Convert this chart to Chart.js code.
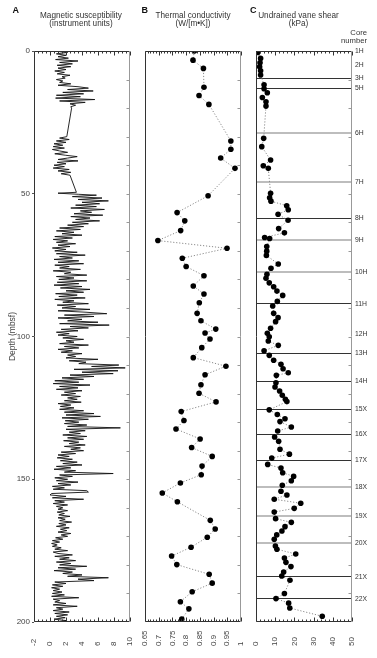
<!DOCTYPE html>
<html>
<head>
<meta charset="utf-8">
<script src="https://cdn.jsdelivr.net/npm/chart.js@4.4.0/dist/chart.umd.min.js"></script>
<style>
body { margin: 0; background: #fff; }
#wrap { position: relative; width: 377px; height: 658px; font-family: "Liberation Sans", Arial, sans-serif; color: #333; }
canvas { position: absolute; top: 0; }
.letter { position: absolute; top: 6.4px; font-size: 9px; line-height: 9px; font-weight: bold; color: #111; }
.ttl { position: absolute; top: 11.5px; font-size: 8.2px; line-height: 8px; text-align: center; white-space: nowrap; transform: translateX(-50%); }
.core { position: absolute; top: 29px; right: 10px; font-size: 7.7px; line-height: 8px; text-align: right; }
</style>
</head>
<body>
<div id="wrap">
  <canvas id="chartA" width="140" height="658" style="left:0px"></canvas>
  <canvas id="chartB" width="115" height="658" style="left:135px"></canvas>
  <canvas id="chartC" width="127" height="658" style="left:250px"></canvas>
  <div class="letter" style="left:12.5px">A</div>
  <div class="letter" style="left:141.5px">B</div>
  <div class="letter" style="left:250px">C</div>
  <div class="ttl" style="left:81px">Magnetic susceptibility<br>(instrument units)</div>
  <div class="ttl" style="left:193px">Thermal conductivity<br>(W/[m•K])</div>
  <div class="ttl" style="left:298.5px">Undrained vane shear<br>(kPa)</div>
  <div class="core">Core<br>number</div>
</div>
<script>
/* depth in mbsf */
const magDepth = [
  0, 0.5, 1, 1.5, 2, 2.5, 3, 3.5, 4, 4.5, 5,
  5.5, 6, 6.5, 7, 7.5, 8, 8.5, 9, 9.5, 10,
  10.5, 11, 11.5, 12, 12.5, 13, 13.5, 14, 14.5, 15,
  15.5, 16, 16.5, 17, 17.5, 18, 18.5, 19, 19.5, 20,
  30, 30.5, 31, 31.5, 32, 32.5, 33, 33.5, 34, 34.5,
  35, 35.5, 36, 36.5, 37, 37.5, 38, 38.5, 39, 39.5,
  40, 40.5, 41, 41.5, 42, 42.5, 43, 43.5,
  49.5, 49.8, 50.2, 50.5, 51, 51.5, 52, 52.5, 53, 53.5, 54, 54.5, 55,
  55.5, 56, 56.5, 57, 57.5, 58, 58.5, 59, 59.5, 60,
  60.5, 61, 61.5, 62, 62.5, 63, 63.5, 64, 64.5, 65,
  65.5, 66, 66.5, 67, 67.5, 68, 68.5, 69, 69.5, 70,
  70.5, 71, 71.5, 72, 72.5, 73, 73.5, 74, 74.5, 75,
  75.5, 76, 76.5, 77, 77.5, 78, 78.5, 79, 79.5, 80,
  80.5, 81, 81.5, 82, 82.5, 83, 83.5, 84, 84.5, 85,
  85.5, 86, 86.5, 87, 87.5, 88, 88.5, 89, 89.5, 90,
  90.5, 91, 91.5, 92, 92.5, 93, 93.5, 94, 94.5, 95,
  95.5, 96, 96.5, 97, 97.5, 98, 98.5, 99, 99.5, 100,
  100.5, 101, 101.5, 102, 102.5, 103, 103.5, 104, 104.5, 105,
  105.5, 106, 106.5, 107, 107.5, 108, 108.5, 109, 109.5, 110,
  110.5, 111, 111.5, 112, 112.5, 113, 113.5, 114, 114.5, 115,
  115.5, 116, 116.5, 117, 117.5, 118, 118.5, 119, 119.5, 120,
  120.5, 121, 121.5, 122, 122.5, 123, 123.5, 124, 124.5, 125,
  125.5, 126, 126.5, 127, 127.5, 128, 128.5, 129, 129.5, 130,
  130.5, 131, 131.5, 132, 132.5, 133, 133.5, 134, 134.5, 135,
  135.5, 136, 136.5, 137, 137.5, 138, 138.5, 139, 139.5, 140,
  140.5, 141, 141.5, 142, 142.5, 143, 143.5, 144, 144.5, 145,
  145.5, 146, 146.5, 147, 147.5, 148, 148.5, 149, 149.5, 150,
  150.5, 151, 151.5, 152, 152.5, 153, 153.5, 154, 154.5, 155,
  155.5, 156, 156.5, 157, 157.5, 158, 158.5, 159, 159.5, 160,
  160.5, 161, 161.5, 162, 162.5, 163, 163.5, 164, 164.5, 165,
  165.5, 166, 166.5, 167, 167.5, 168, 168.5, 169, 169.5, 170,
  170.5, 171, 171.5, 172, 172.5, 173, 173.5, 174, 174.5, 175,
  175.5, 176, 176.5, 177, 177.5, 178, 178.5, 179, 179.5, 180,
  180.5, 181, 181.5, 182, 182.5, 183, 183.5, 184, 184.5, 185,
  185.5, 186, 186.5, 187, 187.5, 188, 188.5, 189, 189.5, 190,
  190.5, 191, 191.5, 192, 192.5, 193, 193.5, 194, 194.5, 195,
  195.5, 196, 196.5, 197, 197.5, 198, 198.5, 199, 199.5, 200
];
const magSusc = [
  0.5, 2.2, 0.8, 2.0, 1.0, 2.3, 0.7, 3.5, 1.2, 2.8, 0.9,
  2.6, 1.0, 2.0, 0.6, 1.8, 0.9, 2.5, 1.5, 1.9, 0.8,
  1.6, 1.2, 2.6, 1.0, 3.5, 4.8, 2.2, 5.4, 1.6, 4.2,
  0.8, 3.8, 0.7, 5.6, 1.2, 4.4, 2.5, 3.2, 2.6, 2.7,
  2.1, 1.2, 2.4, 0.8, 2.0, 0.5, 1.6, 0.4, 1.8, 0.3,
  1.2, 2.2, 0.6, 1.9, 3.4, 2.2, 1.0, 3.5, 0.9, 2.0,
  0.5, 1.8, 0.4, 2.4, 1.0, 2.6, 1.4, 2.5,
  3.3, 1.0, 3.6, 5.8, 2.8, 6.5, 3.5, 7.3, 4.0, 6.2, 3.2, 5.8, 2.6,
  6.8, 3.8, 5.2, 3.0, 6.6, 2.6, 5.0, 3.2, 6.2, 2.8,
  4.8, 2.2, 4.2, 1.2, 3.8, 0.8, 3.0, 1.5, 4.0, 0.6,
  2.8, 0.4, 2.2, 0.8, 3.2, 1.0, 2.5, 0.3, 2.0, 0.6,
  3.4, 0.8, 4.4, 1.2, 2.8, 0.5, 3.6, 1.0, 4.2, 0.6,
  2.4, 1.2, 3.8, 0.4, 2.6, 1.8, 4.6, 0.8, 3.0, 1.1,
  4.6, 0.9, 3.6, 0.5, 4.0, 1.3, 5.0, 2.0, 4.2, 0.7,
  3.4, 1.1, 4.4, 0.6, 3.0, 1.6, 4.8, 0.9, 3.2, 1.5,
  5.0, 1.0, 4.5, 7.1, 1.8, 5.5, 1.0, 4.0, 2.2, 6.0,
  1.2, 7.4, 2.5, 4.8, 1.4, 3.5, 0.8, 2.4, 1.0, 3.4,
  1.6, 4.2, 2.0, 3.0, 1.2, 4.8, 1.8, 3.6, 1.0, 2.8,
  1.4, 4.0, 2.2, 3.2, 2.0, 6.0, 2.4, 4.5, 3.6, 8.6,
  5.2, 9.4, 3.0, 8.5, 4.0, 7.9, 2.5, 5.5, 1.5, 4.2,
  0.6, 3.6, 0.4, 5.0, 1.2, 3.5, 0.8, 4.0, 1.8, 3.2,
  1.4, 3.8, 2.2, 3.4, 1.8, 3.9, 1.0, 2.6, 1.3, 3.0,
  1.2, 4.2, 1.8, 5.5, 2.0, 6.3, 1.5, 4.8, 1.9, 3.6,
  1.8, 4.6, 2.2, 8.8, 2.0, 4.4, 2.4, 3.8, 1.6, 4.6,
  2.2, 4.2, 1.7, 3.6, 2.4, 4.4, 1.8, 3.8, 2.6, 4.2,
  1.4, 3.2, 1.0, 2.4, 0.9, 2.8, 1.3, 3.4, 1.6, 4.0,
  0.8, 2.6, 0.5, 3.2, 1.8, 7.9, 1.2, 2.8, 0.6, 2.2,
  0.8, 3.5, 1.0, 2.6, 0.3, 1.8, 0.4, 4.6, 4.8, 0.2,
  0.0, 2.0, 0.3, 4.2, 0.6, 1.8, 0.4, 2.2, 0.8, 1.6,
  1.0, 2.2, 0.9, 1.8, 1.1, 2.5, 1.0, 1.9, 1.2, 2.7,
  1.1, 2.0, 0.8, 2.4, 1.3, 2.1, 1.0, 2.6, 1.4, 2.2,
  0.7, 1.6, 0.3, 1.2, 0.2, 0.9, 0.3, 1.4, 0.6, 2.2,
  0.4, 1.0, 2.8, 0.6, 2.4, 1.2, 3.2, 0.8, 2.6, 1.2,
  4.6, 1.0, 3.2, 0.5, 2.8, 1.6, 4.0, 2.2, 7.3, 3.5,
  5.5, 0.6, 2.0, 0.3, 1.6, 0.2, 1.2, 0.4, 1.5, 0.3,
  1.8, 0.2, 3.6, 0.4, 1.2, 0.6, 2.0, 0.4, 3.4, 0.8,
  1.6, 0.4, 2.4, 0.6, 2.2, 0.8, 1.9, 0.5, 2.0, 0.8
];

const condDepth = [0, 3.2, 6.1, 12.7, 15.6, 18.7, 31.5, 34.4, 37.5, 41.1,
  50.7, 56.6, 59.5, 62.9, 66.4, 69.1, 72.6, 75.5, 78.7, 82.3,
  85.1, 88.2, 91.9, 94.5, 97.4, 98.8, 100.9, 103.9, 107.4, 110.4,
  113.4, 116.9, 119.9, 122.9, 126.3, 129.4, 132.4, 135.9, 138.9, 142.0,
  145.4, 148.4, 151.3, 154.8, 157.9, 164.4, 167.4, 170.3, 173.8, 176.9,
  179.9, 183.3, 186.4, 189.4, 192.9, 195.4, 199];
const condValue = [0.83, 0.825, 0.863, 0.865, 0.847, 0.883, 0.963, 0.963, 0.926, 0.978,
  0.880, 0.767, 0.795, 0.780, 0.697, 0.949, 0.786, 0.800, 0.865, 0.826,
  0.865, 0.848, 0.840, 0.854, 0.908, 0.869, 0.887, 0.857, 0.826, 0.945,
  0.869, 0.854, 0.847, 0.909, 0.782, 0.792, 0.763, 0.851, 0.820, 0.895,
  0.858, 0.855, 0.779, 0.713, 0.768, 0.888, 0.906, 0.877, 0.818, 0.747,
  0.766, 0.884, 0.895, 0.822, 0.779, 0.810, 0.784];

const shearDepth = [0.5, 2.6, 4.1, 5.5, 6.9, 8.4, 11.8, 13.2, 14.6, 16.3, 17.8, 19.3,
  30.6, 33.5, 38.2, 40.2, 41.1,
  49.8, 51.4, 52.6, 54.2, 55.6, 57.2, 59.3, 62.2, 63.7, 65.3,
  65.7, 68.5, 70.1, 71.6, 74.6, 76.1, 78.2, 79.6, 81.2, 82.6,
  84.1, 85.6, 87.7, 89.3, 91.9, 93.4, 94.8, 97.1, 98.9, 100.1,
  101.6, 103.1, 105.0, 106.6, 108.3, 109.7, 111.3, 112.7, 113.6, 116.2,
  117.7, 119.1, 120.6, 122.0, 122.8, 125.7, 127.3, 128.8, 129.8, 131.7,
  133.1, 135.2, 136.7, 139.5, 141.2, 142.6, 144.8, 146.1, 147.7, 149.0,
  150.5, 152.1, 154.2, 155.5, 157.0, 158.4, 160.2, 161.5, 163.8, 165.1,
  166.6, 168.1, 169.5, 171.0, 173.4, 174.5, 176.2, 177.6, 179.1, 180.6,
  182.5, 183.9, 185.4, 190.0, 191.8, 193.4, 195.1, 198.0];
const shearValue = [0.9, 2.4, 2.1, 1.9, 2.4, 2.4, 4.2, 4.2, 5.9, 3.3, 5.2, 5.2,
  4.0, 3.0, 7.6, 3.8, 6.4,
  7.6, 7.1, 7.8, 16.0, 16.8, 11.5, 16.7, 11.8, 14.8, 4.5,
  7.1, 5.6, 5.6, 5.4, 11.6, 7.8, 5.7, 5.2, 6.9, 9.2,
  10.9, 13.9, 11.1, 8.7, 9.2, 11.5, 10.2, 7.6, 5.9, 6.9,
  6.4, 11.6, 4.2, 6.9, 9.2, 13.0, 14.1, 16.8, 10.6, 10.4,
  9.9, 12.3, 13.7, 15.3, 16.1, 6.9, 11.1, 15.1, 12.5, 18.4,
  11.3, 9.7, 11.8, 12.5, 17.4, 8.2, 6.1, 13.0, 13.9, 19.6,
  18.4, 13.7, 13.0, 16.1, 9.5, 23.3, 19.9, 9.5, 10.2, 18.4,
  15.1, 13.5, 10.8, 9.5, 10.1, 10.9, 20.7, 14.8, 15.6, 18.2,
  14.4, 13.4, 17.7, 14.8, 10.4, 17.0, 17.6, 34.5];

const coreNames = ['1H', '2H', '3H', '5H', '6H', '7H', '8H', '9H', '10H', '11H', '12H',
  '13H', '14H', '15X', '16X', '17X', '18X', '19X', '20X', '21X', '22X'];
const coreDepth = [0, 4.9, 9.5, 13.0, 28.7, 45.9, 58.5, 66.2, 77.4, 88.6, 99.3,
  105.8, 115.6, 125.4, 134.2, 143.3, 152.7, 162.9, 172.4, 184.2, 191.9];

const depthTicks = [0, 50, 100, 150, 200];
const magTicks = [-2, 0, 2, 4, 6, 8, 10];
const condTicks = [0.65, 0.7, 0.75, 0.8, 0.85, 0.9, 0.95, 1];
const condTickLabels = ['0.65', '0.7', '0.75', '0.8', '0.85', '0.9', '0.95', '1'];
const shearTicks = [0, 10, 20, 30, 40, 50];

/* core boundary line look: k = black, g = gray, - = none */
const coreLineStyle = '--kkggkggk-kkkkkgggkk';

function toPoints(xs, ys) {
    return ys.map(function (d, i) { return {x: xs[i], y: d}; });
}

/* frame, inward minor ticks and rotated x labels */
const framePlugin = {
    id: 'frame',
    afterDatasetsDraw(chart, args, opts) {
        const ctx = chart.ctx, a = chart.chartArea;
        const x = chart.scales.x, y = chart.scales.y;
        const L = Math.round(a.left) + 0.5, R = Math.round(a.right) - 0.5;
        const T = Math.round(a.top) + 0.5, B = Math.round(a.bottom) - 0.5;
        ctx.save();
        ctx.lineWidth = 1;
        ctx.strokeStyle = '#333';
        ctx.beginPath();
        const n = Math.round((x.max - x.min) / opts.minor);
        for (let i = 0; i <= n; i++) {
            const px = Math.round(x.getPixelForValue(x.min + i * opts.minor)) + 0.5;
            const len = (i % opts.every === 0) ? 4 : 2;
            ctx.moveTo(px, T); ctx.lineTo(px, T + len);
            ctx.moveTo(px, B); ctx.lineTo(px, B - len);
        }
        ctx.moveTo(L, T); ctx.lineTo(R, T);
        ctx.moveTo(L, B); ctx.lineTo(R, B);
        ctx.moveTo(L, T); ctx.lineTo(L, B);
        ctx.stroke();
        ctx.strokeStyle = '#999';
        ctx.beginPath();
        ctx.moveTo(R, T); ctx.lineTo(R, B);
        for (let d = 10; d < 200; d += 10) {
            const py = Math.round(y.getPixelForValue(d)) + 0.5;
            ctx.moveTo(R, py); ctx.lineTo(R - 3, py);
        }
        ctx.stroke();
        ctx.fillStyle = '#444';
        ctx.font = '8px "Liberation Sans", Arial, sans-serif';
        ctx.textAlign = 'left';
        ctx.textBaseline = 'middle';
        x.ticks.forEach(function (t) {
            ctx.save();
            ctx.translate(x.getPixelForValue(t.value), 646);
            ctx.rotate(-Math.PI / 2);
            ctx.fillText(t.label, 0, 0);
            ctx.restore();
        });
        ctx.restore();
    }
};

function xScale(min, max, ticks, labels) {
    return {
        type: 'linear', min: min, max: max,
        afterBuildTicks: function (s) { s.ticks = ticks.map(function (v) { return {value: v}; }); },
        afterFit: function (s) { s.height = 30; },
        ticks: {display: false, callback: function (v, i) { return labels ? labels[i] : String(v); }},
        grid: {display: false},
        border: {display: false}
    };
}

function depthScale(show) {
    return {
        type: 'linear', min: 0, max: 200, reverse: true, display: show,
        afterBuildTicks: function (s) { s.ticks = depthTicks.map(function (v) { return {value: v}; }); },
        afterFit: function (s) { s.width = show ? 34 : 0; },
        ticks: {font: {size: 8, family: '"Liberation Sans", Arial'}, color: '#444', padding: 2},
        grid: {drawOnChartArea: false, tickLength: 2, color: '#555'},
        border: {display: false},
        title: {display: true, text: 'Depth (mbsf)', color: '#444', padding: {top: 8, bottom: 0},
            font: {size: 8.5, family: '"Liberation Sans", Arial'}}
    };
}

function baseOptions(pad, xs, showY, frame) {
    return {
        responsive: false, animation: false, devicePixelRatio: 1,
        layout: {padding: pad},
        plugins: {legend: {display: false}, tooltip: {enabled: false}, frame: frame},
        scales: {x: xs, y: depthScale(showY)}
    };
}

const dotted = {
    showLine: true, borderColor: '#8a8a8a', borderWidth: 1, borderDash: [1.2, 1.8],
    pointRadius: 2.8, pointBackgroundColor: '#000', pointBorderWidth: 0
};

new Chart(document.getElementById('chartA'), {
    type: 'scatter',
    data: {datasets: [{data: toPoints(magSusc, magDepth), showLine: true, borderColor: '#111',
        borderWidth: 0.9, pointRadius: 0}]},
    options: baseOptions({top: 51, bottom: 6, left: 0, right: 10},
        xScale(-2, 10, magTicks), true, {minor: 0.5, every: 4}),
    plugins: [framePlugin]
});

new Chart(document.getElementById('chartB'), {
    type: 'scatter',
    data: {datasets: [Object.assign({data: toPoints(condValue, condDepth)}, dotted)]},
    options: baseOptions({top: 51, bottom: 6, left: 10, right: 9},
        xScale(0.65, 1, condTicks, condTickLabels), false, {minor: 0.01, every: 5}),
    plugins: [framePlugin]
});

const optsC = baseOptions({top: 51, bottom: 6, left: 6, right: 0},
    xScale(0, 50, shearTicks), false, {minor: 2, every: 5});
optsC.scales.core = {
    type: 'linear', position: 'right', min: 0, max: 200, reverse: true,
    afterBuildTicks: function (s) { s.ticks = coreDepth.map(function (v) { return {value: v}; }); },
    afterFit: function (s) { s.width = 25; },
    ticks: {autoSkip: false, padding: 3, color: '#333', font: {size: 6.8, family: '"Liberation Sans", Arial'},
        callback: function (v, i) { return coreNames[i]; }},
    grid: {
        drawTicks: false,
        color: function (c) {
            const k = coreLineStyle[c.index];
            return k === 'k' ? '#333' : (k === 'g' ? '#bdbdbd' : 'rgba(0,0,0,0)');
        },
        lineWidth: function (c) { return coreLineStyle[c.index] === 'g' ? 2 : 1; }
    },
    border: {display: false}
};

new Chart(document.getElementById('chartC'), {
    type: 'scatter',
    data: {datasets: [Object.assign({data: toPoints(shearValue, shearDepth)}, dotted)]},
    options: optsC,
    plugins: [framePlugin]
});
</script>
</body>
</html>
